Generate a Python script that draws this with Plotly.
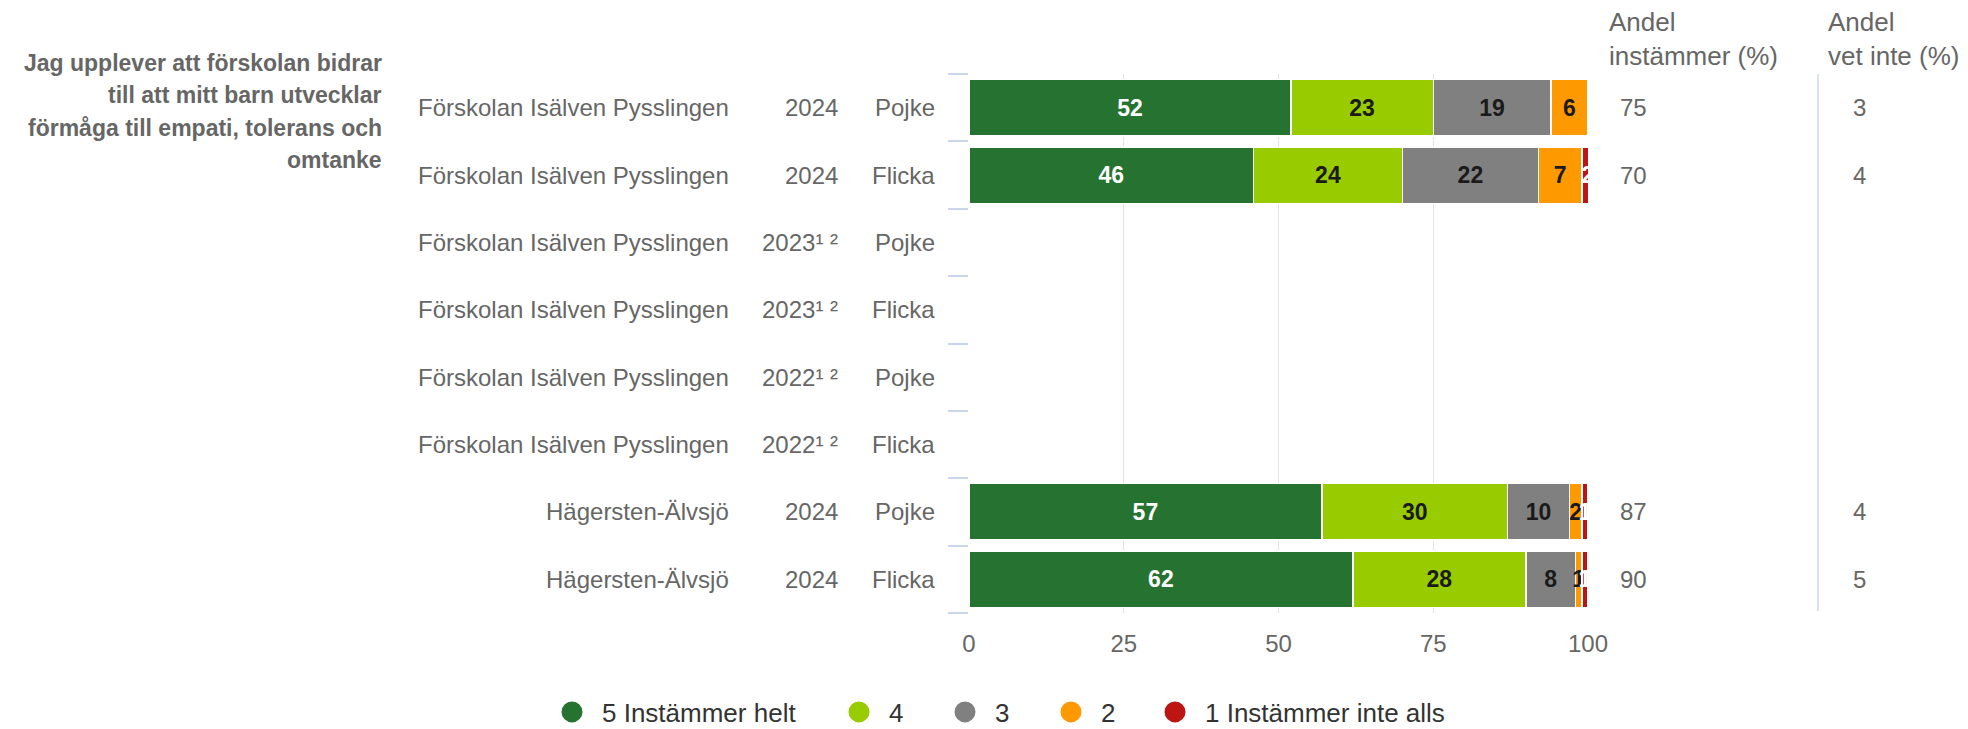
import plotly.graph_objects as go

# ---------------- data ----------------
schools = ["Förskolan Isälven Pysslingen"] * 6 + ["Hägersten-Älvsjö"] * 2
years = ["2024", "2024", "2023¹ ²", "2023¹ ²", "2022¹ ²", "2022¹ ²", "2024", "2024"]
genders = ["Pojke", "Flicka", "Pojke", "Flicka", "Pojke", "Flicka", "Pojke", "Flicka"]

s5 = [52, 46, None, None, None, None, 57, 62]
s4 = [23, 24, None, None, None, None, 30, 28]
s3 = [19, 22, None, None, None, None, 10, 8]
s2 = [6, 7, None, None, None, None, 2, 1]
s1 = [0, 2, None, None, None, None, 1, 1]

andel_instammer = [75, 70, None, None, None, None, 87, 90]
andel_vet_inte = [3, 4, None, None, None, None, 4, 5]

series_names = ["5 Instämmer helt", "4", "3", "2", "1 Instämmer inte alls"]
series_values = [s5, s4, s3, s2, s1]
series_colors = ["#267230", "#99cc00", "#808080", "#ff9900", "#bd1414"]
label_colors = ["#ffffff", "#1a1a1a", "#1a1a1a", "#1a1a1a", "#ffffff"]

question_lines = ["Jag upplever att förskolan bidrar", "till att mitt barn utvecklar",
                  "förmåga till empati, tolerans och", "omtanke"]
col_headers = ["Andel<br>instämmer (%)", "Andel<br>vet inte (%)"]
x_ticks = [0, 25, 50, 75, 100]

# ---------------- layout constants (pixels) ----------------
W, H = 1968, 729
PL, PR, PT, PB = 969, 1588, 74, 613
FONT = "Liberation Sans, Arial, sans-serif"
GRAY = "#666666"


def px_x(p):
    return (p - PL) / (PR - PL)


def px_y(p):
    return (PB - p) / (PB - PT)


rows = list(range(len(schools)))

fig = go.Figure()
for name, vals, col, tcol in zip(series_names, series_values, series_colors, label_colors):
    fig.add_trace(go.Bar(
        x=vals, y=rows, orientation="h", name=name,
        marker=dict(color=col, line=dict(color="white", width=1.5)),
        text=["<b>%d</b>" % v if v is not None else "" for v in vals],
        textposition="inside", insidetextanchor="middle", textangle=0,
        constraintext="none",
        textfont=dict(family=FONT, size=23, color=tcol),
        showlegend=False, hoverinfo="skip", cliponaxis=True,
    ))

# legend entries (one legend per item so they can be spaced like the reference)
legend_centers = [572, 859, 965, 1071, 1175]
for k, (name, col) in enumerate(zip(series_names, series_colors)):
    lg = "legend" if k == 0 else "legend%d" % (k + 1)
    fig.add_trace(go.Scatter(
        x=[None], y=[None], mode="markers", name=name, legend=lg,
        marker=dict(symbol="circle", size=16, color=col, line=dict(color=col, width=6)),
        showlegend=True, hoverinfo="skip",
    ))
    fig.update_layout(**{lg: dict(
        x=(legend_centers[k] - 30) / W, xref="container", xanchor="left",
        y=1 - 712 / H, yref="container", yanchor="middle",
        orientation="h", itemwidth=50, bgcolor="rgba(0,0,0,0)",
        font=dict(family=FONT, size=26, color="#333333"),
    )})

annotations = []
# left row labels
for i in rows:
    annotations.append(dict(x=px_x(731), y=i, xref="paper", yref="y", text=schools[i],
                            xanchor="right", yanchor="middle", showarrow=False,
                            font=dict(family=FONT, size=24, color=GRAY)))
    annotations.append(dict(x=px_x(840), y=i, xref="paper", yref="y", text=years[i],
                            xanchor="right", yanchor="middle", showarrow=False,
                            font=dict(family=FONT, size=24, color=GRAY)))
    annotations.append(dict(x=px_x(937), y=i, xref="paper", yref="y", text=genders[i],
                            xanchor="right", yanchor="middle", showarrow=False,
                            font=dict(family=FONT, size=24, color=GRAY)))
    if andel_instammer[i] is not None:
        annotations.append(dict(x=px_x(1618), y=i, xref="paper", yref="y",
                                text=str(andel_instammer[i]), xanchor="left", yanchor="middle",
                                showarrow=False, font=dict(family=FONT, size=24, color=GRAY)))
    if andel_vet_inte[i] is not None:
        annotations.append(dict(x=px_x(1851), y=i, xref="paper", yref="y",
                                text=str(andel_vet_inte[i]), xanchor="left", yanchor="middle",
                                showarrow=False, font=dict(family=FONT, size=24, color=GRAY)))

# question text
for j, (line, py) in enumerate(zip(question_lines, [63, 95, 128, 160])):
    annotations.append(dict(x=px_x(384), y=px_y(py), xref="paper", yref="paper",
                            text="<b>%s</b>" % line, xanchor="right", yanchor="middle",
                            showarrow=False, font=dict(family=FONT, size=23, color=GRAY)))

# column headers
for hdr, px in zip(col_headers, [1607, 1826]):
    annotations.append(dict(x=px_x(px), y=px_y(39), xref="paper", yref="paper",
                            text=hdr, xanchor="left", yanchor="middle", align="left",
                            showarrow=False, font=dict(family=FONT, size=26, color=GRAY)))

fig.update_layout(
    width=W, height=H,
    margin=dict(l=PL, r=W - PR, t=PT, b=H - PB, pad=0),
    paper_bgcolor="white", plot_bgcolor="white",
    barmode="stack", bargap=0.16,
    font=dict(family=FONT, color=GRAY),
    annotations=annotations,
    shapes=[dict(type="line", xref="paper", yref="paper",
                 x0=px_x(1818), x1=px_x(1818), y0=px_y(611), y1=px_y(74),
                 line=dict(color="#ccd6eb", width=1.5))],
    xaxis=dict(range=[0, 100], tickvals=x_ticks, ticktext=[str(t) for t in x_ticks],
               showgrid=True, gridcolor="#e3e3e3", gridwidth=1, zeroline=False,
               showline=False, ticks="", ticklabelstandoff=14,
               tickfont=dict(family=FONT, size=24, color=GRAY), fixedrange=True),
    yaxis=dict(range=[len(rows) - 0.5, -0.5], tickvals=[i - 0.5 for i in range(len(rows) + 1)],
               showticklabels=False, ticks="outside", ticklen=20, tickcolor="#ccd6eb",
               tickwidth=1.5, showgrid=False, zeroline=False, showline=False, fixedrange=True),
)

fig.write_html("out.html", config={"displayModeBar": False},
               post_script="document.body.style.margin='0px';document.body.style.overflow='hidden';")
